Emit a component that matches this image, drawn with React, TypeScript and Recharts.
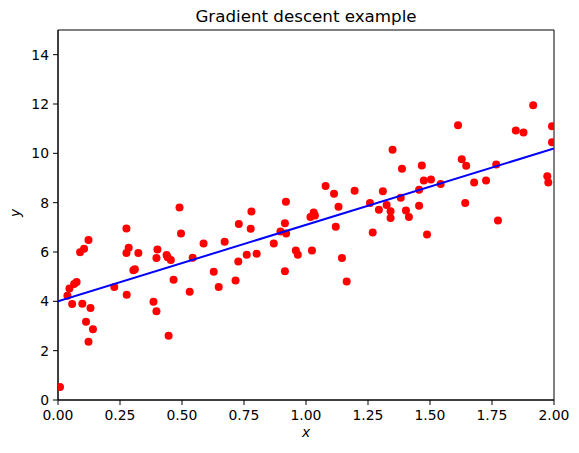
import { ScatterChart, Scatter, XAxis, YAxis, ReferenceArea } from 'recharts';

// sampled points (x, y)
const xs = [
  0.008, 0.038, 0.046, 0.057, 0.065, 0.075, 0.089, 0.105, 0.123, 0.098,
  0.131, 0.113, 0.141, 0.123, 0.227, 0.276, 0.276, 0.285, 0.277, 0.324,
  0.304, 0.31, 0.385, 0.397, 0.401, 0.397, 0.438, 0.442, 0.455, 0.446,
  0.496, 0.466, 0.531, 0.543, 0.587, 0.628, 0.648, 0.49, 0.672, 0.716,
  0.729, 0.727, 0.761, 0.78, 0.777, 0.801, 0.87, 0.897, 0.915, 0.919,
  0.92, 0.915, 0.959, 0.967, 1.024, 1.018, 1.031, 1.036, 1.079, 1.113,
  1.131, 1.12, 1.145, 1.164, 1.196, 1.258, 1.269, 1.294, 1.31, 1.325,
  1.341, 1.341, 1.349, 1.382, 1.387, 1.403, 1.415, 1.456, 1.456, 1.467,
  1.475, 1.488, 1.504, 1.543, 1.613, 1.628, 1.646, 1.642, 1.678, 1.726,
  1.767, 1.774, 1.846, 1.877, 1.916, 1.973, 1.977, 1.992, 1.992,
];
const ys = [
  0.53, 4.23, 4.52, 3.89, 4.7, 4.78, 5.99, 6.13, 6.49, 3.9,
  3.73, 3.17, 2.87, 2.36, 4.58, 6.95, 5.96, 6.17, 4.27, 5.96,
  5.26, 5.3, 3.98, 3.6, 6.1, 5.76, 5.88, 5.79, 5.68, 2.6,
  6.75, 4.88, 4.39, 5.77, 6.34, 5.2, 4.58, 7.8, 6.42, 4.84,
  7.14, 5.61, 5.89, 7.64, 6.94, 5.93, 6.34, 6.83, 7.17, 8.04,
  6.75, 5.22, 6.06, 5.89, 6.06, 7.42, 7.6, 7.48, 8.68, 8.36,
  7.83, 7.02, 5.76, 4.8, 8.48, 7.99, 6.79, 7.71, 8.46, 7.91,
  7.65, 7.38, 10.15, 8.2, 9.37, 7.68, 7.42, 8.52, 7.87, 9.51,
  8.9, 6.71, 8.94, 8.76, 11.14, 9.76, 9.5, 7.99, 8.82, 8.9,
  9.55, 7.28, 10.93, 10.84, 11.95, 9.07, 8.82, 11.1, 10.45,
];

// fitted line endpoints
const lineX = [0, 2];
const lineY = [4.0, 10.2];

const xTicks = [0, 0.25, 0.5, 0.75, 1, 1.25, 1.5, 1.75, 2];
const yTicks = [0, 2, 4, 6, 8, 10, 12, 14];

const points = xs.map((x, i) => ({ x, y: ys[i] }));
const fit = lineX.map((x, i) => ({ x, y: lineY[i] }));

const FONT = '"DejaVu Sans", sans-serif';
const tickStyle = { fill: '#000', fontSize: 13.9, fontFamily: FONT };

const Dot = (props: any) => <circle cx={props.cx} cy={props.cy} r={4} fill="#ff0000" />;

export default function App() {
  return (
    <div style={{ position: 'absolute', left: 0, top: 0, width: 579, height: 453, background: '#fff' }}>
      <div
        style={{
          position: 'absolute',
          left: 0,
          width: 612,
          top: 8,
          textAlign: 'center',
          fontFamily: FONT,
          fontSize: 16.7,
          lineHeight: 1,
          color: '#000',
        }}
      >
        Gradient descent example
      </div>
      <div
        style={{
          position: 'absolute',
          left: 0,
          width: 612,
          top: 426,
          textAlign: 'center',
          fontFamily: FONT,
          fontStyle: 'italic',
          fontSize: 13.9,
          lineHeight: 1,
          color: '#000',
        }}
      >
        x
      </div>
      <div
        style={{
          position: 'absolute',
          left: 1,
          top: 206,
          width: 30,
          textAlign: 'center',
          transform: 'rotate(-90deg)',
          fontFamily: FONT,
          fontStyle: 'italic',
          fontSize: 13.9,
          lineHeight: 1,
          color: '#000',
        }}
      >
        y
      </div>
      <ScatterChart width={579} height={453} margin={{ top: 30, right: 25, bottom: 0, left: 0 }}>
        <XAxis
          type="number"
          dataKey="x"
          domain={[0, 2]}
          ticks={xTicks}
          allowDataOverflow
          tickFormatter={(v: number) => v.toFixed(2)}
          tick={tickStyle}
          tickSize={5}
          tickMargin={5}
          stroke="#000"
          height={53}
        />
        <YAxis
          type="number"
          dataKey="y"
          domain={[0, 15]}
          ticks={yTicks}
          allowDataOverflow
          tick={tickStyle}
          tickSize={5}
          tickMargin={4}
          stroke="#000"
          width={58}
        />
        <ReferenceArea x1={0} x2={2} y1={0} y2={15} fill="none" stroke="#000" strokeWidth={1} />
        <Scatter data={points} shape={Dot} isAnimationActive={false} />
        <Scatter
          data={fit}
          line={{ stroke: '#0000ff', strokeWidth: 2 }}
          shape={() => null}
          isAnimationActive={false}
        />
      </ScatterChart>
    </div>
  );
}
